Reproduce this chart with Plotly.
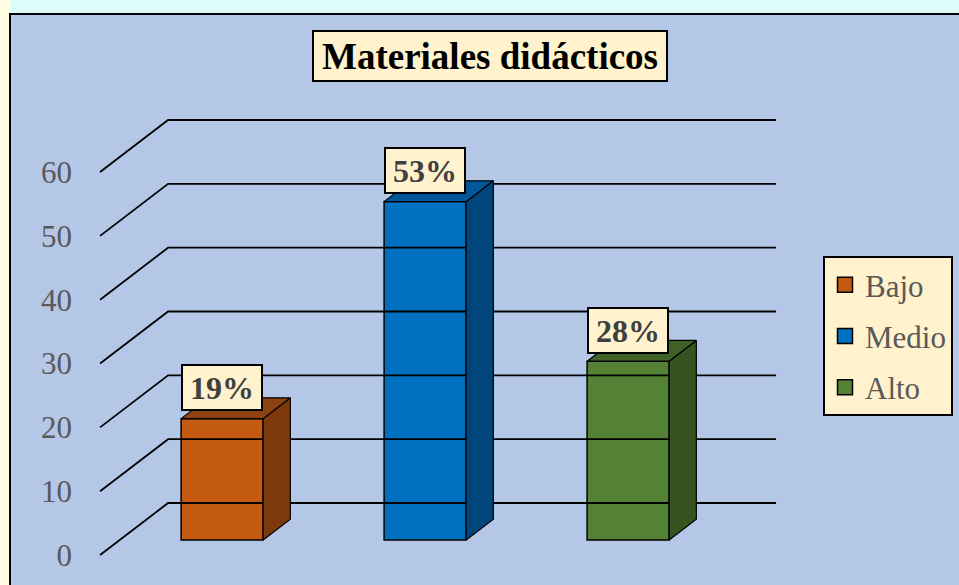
import plotly.graph_objects as go

# ---------------- data ----------------
categories = ["Bajo", "Medio", "Alto"]
values = [19, 53, 28]
labels = ["19%", "53%", "28%"]
front_colors = ["#C55A11", "#0070C0", "#548235"]
side_colors = ["#7E390B", "#00467C", "#365420"]
top_colors = ["#8E420F", "#005799", "#3F6126"]
tick_vals = [0, 10, 20, 30, 40, 50, 60]
title_text = "Materiales didácticos"

# ---------------- layout geometry (pixels) ----------------
W_FIG, H_FIG = 959, 585
L = 78                     # left margin (space for tick labels)
PX_PER_UNIT_Y = 6.383      # px per value unit
Y0_PX = 555                # pixel row of value 0 on the front plane
PX_PER_CAT = 203           # px per category step
X0_PX = 202.4              # pixel column of category 0 on the front plane
DEPTH_PX_X, DEPTH_PX_Y = 68, 52

W_PLOT = W_FIG - L
xmin = (L - X0_PX) / PX_PER_CAT
xmax = (W_FIG - X0_PX) / PX_PER_CAT
ymin = -(H_FIG - Y0_PX) / PX_PER_UNIT_Y
ymax = Y0_PX / PX_PER_UNIT_Y

DX = DEPTH_PX_X / PX_PER_CAT       # depth shift in category units
DY = DEPTH_PX_Y / PX_PER_UNIT_Y    # depth shift in value units
WALL_LEFT, WALL_RIGHT = -0.504, 2.491
BAR_W = 0.404
D1, D2 = 0.29, 0.69                # bar front / back depth


def pt(x, v, d):
    return x + d * DX, v + d * DY


def px_to_paper_x(p):
    return (p - L) / W_PLOT


def px_to_paper_y(p):
    return 1 - p / H_FIG


FONT = "Liberation Serif, Times New Roman, serif"

fig = go.Figure()

# ---------------- walls / gridlines ----------------
gx, gy = [], []
for v in tick_vals:
    a = pt(WALL_LEFT, v, 0)
    b = pt(WALL_LEFT, v, 1)
    c = pt(WALL_RIGHT, v, 1)
    gx += [a[0], b[0], c[0], None]
    gy += [a[1], b[1], c[1], None]
fig.add_trace(go.Scatter(x=gx, y=gy, mode="lines", line=dict(color="#000000", width=1.8),
                         hoverinfo="skip", showlegend=False))

# ---------------- bars ----------------
for i, (cat, v) in enumerate(zip(categories, values)):
    xl = i - BAR_W / 2
    xr = i + BAR_W / 2
    # side face
    poly = [pt(xr, 0, D1), pt(xr, v, D1), pt(xr, v, D2), pt(xr, 0, D2), pt(xr, 0, D1)]
    fig.add_trace(go.Scatter(x=[p[0] for p in poly], y=[p[1] for p in poly], mode="lines",
                             fill="toself", fillcolor=side_colors[i],
                             line=dict(color="#000000", width=1.2),
                             hoverinfo="skip", showlegend=False))
    # top face
    poly = [pt(xl, v, D1), pt(xr, v, D1), pt(xr, v, D2), pt(xl, v, D2), pt(xl, v, D1)]
    fig.add_trace(go.Scatter(x=[p[0] for p in poly], y=[p[1] for p in poly], mode="lines",
                             fill="toself", fillcolor=top_colors[i],
                             line=dict(color="#000000", width=1.2),
                             hoverinfo="skip", showlegend=False))
    # front face
    fx, fb = pt(i, 0, D1)
    fig.add_trace(go.Bar(x=[fx], y=[v], base=[fb], width=[BAR_W],
                         marker=dict(color=front_colors[i], line=dict(color="#000000", width=1.5)),
                         name=cat, showlegend=False))
    # legend entry
    fig.add_trace(go.Scatter(x=[None], y=[None], mode="markers", name=cat,
                             legendgroup=cat,
                             marker=dict(symbol="square", size=15, color=front_colors[i],
                                         line=dict(color="#000000", width=1.5))))
    # data label
    lx, ly = pt(i, v, D1)
    fig.add_annotation(x=lx, y=ly, yshift=31, text=labels[i], showarrow=False,
                       font=dict(family=FONT, size=32, color="#404040", weight="bold"),
                       bgcolor="#FFF2CC", bordercolor="#000000", borderwidth=2,
                       borderpad=0, width=78, height=43, xanchor="center", yanchor="middle")

# ---------------- title ----------------
fig.add_annotation(xref="paper", yref="paper", x=px_to_paper_x(490), y=px_to_paper_y(56),
                   text=title_text, showarrow=False,
                   font=dict(family=FONT, size=37, color="#000000", weight="bold"),
                   bgcolor="#FFF2CC", bordercolor="#000000", borderwidth=2, borderpad=0,
                   width=352, height=48, xanchor="center", yanchor="middle")

# ---------------- frame & outside ----------------
fig.add_shape(type="rect", xref="paper", yref="paper", layer="below",
              x0=px_to_paper_x(-5), x1=px_to_paper_x(10), y0=-0.1, y1=1.1,
              fillcolor="#FFFDE3", line=dict(width=0))
fig.add_shape(type="rect", xref="paper", yref="paper", layer="below",
              x0=px_to_paper_x(10), x1=px_to_paper_x(975), y0=px_to_paper_y(600), y1=px_to_paper_y(14),
              fillcolor="#B4C7E7", line=dict(color="#000000", width=2))

fig.update_layout(
    width=W_FIG, height=H_FIG,
    margin=dict(l=L, r=0, t=0, b=0, autoexpand=False),
    paper_bgcolor="#DDFBF9",
    plot_bgcolor="rgba(0,0,0,0)",
    barmode="overlay",
    showlegend=True,
    legend=dict(x=px_to_paper_x(823), y=px_to_paper_y(256), xanchor="left", yanchor="top",
                bgcolor="#FFF2CC", bordercolor="#000000", borderwidth=2,
                font=dict(family=FONT, size=31, color="#595959"),
                tracegroupgap=8, itemwidth=30),
    xaxis=dict(range=[xmin, xmax], visible=False, fixedrange=True),
    yaxis=dict(range=[ymin, ymax], tickvals=tick_vals, showgrid=False, zeroline=False,
               showline=False, ticks="", automargin=False, ticklabelstandoff=5,
               tickfont=dict(family=FONT, size=31, color="#595959")),
)

fig.write_html("out.html", config={"displayModeBar": False},
               post_script="document.body.style.margin='0';document.body.style.overflow='hidden';")
